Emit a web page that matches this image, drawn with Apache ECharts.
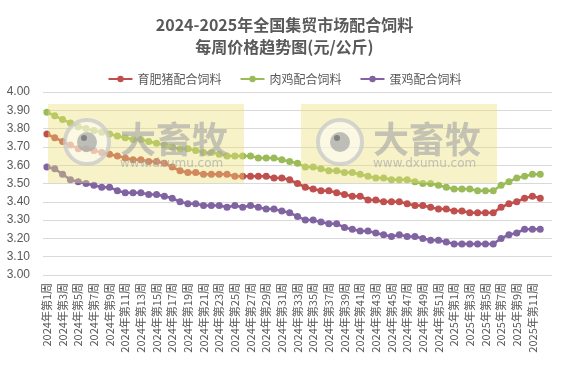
<!DOCTYPE html>
<html><head><meta charset="utf-8">
<script src="https://cdn.jsdelivr.net/npm/echarts@6/dist/echarts.min.js"></script>
<style>html,body{margin:0;padding:0;background:#fff}#c{width:569px;height:365px}</style>
</head><body><div id="c"></div>
<script>
const titleText = '2024-2025年全国集贸市场配合饲料\n每周价格趋势图(元/公斤)';
const categories = [
 '2024年第1周','2024年第2周','2024年第3周','2024年第4周','2024年第5周','2024年第6周','2024年第7周','2024年第8周','2024年第9周','2024年第10周',
 '2024年第11周','2024年第12周','2024年第13周','2024年第14周','2024年第15周','2024年第16周','2024年第17周','2024年第18周','2024年第19周','2024年第20周',
 '2024年第21周','2024年第22周','2024年第23周','2024年第24周','2024年第25周','2024年第26周','2024年第27周','2024年第28周','2024年第29周','2024年第30周',
 '2024年第31周','2024年第32周','2024年第33周','2024年第34周','2024年第35周','2024年第36周','2024年第37周','2024年第38周','2024年第39周','2024年第40周',
 '2024年第41周','2024年第42周','2024年第43周','2024年第44周','2024年第45周','2024年第46周','2024年第47周','2024年第48周','2024年第49周','2024年第50周',
 '2024年第51周','2024年第52周',
 '2025年第1周','2025年第2周','2025年第3周','2025年第4周','2025年第5周','2025年第6周','2025年第7周','2025年第8周','2025年第9周','2025年第10周',
 '2025年第11周','2025年第12周',''
];
const seriesNames = ['育肥猪配合饲料','肉鸡配合饲料','蛋鸡配合饲料'];
const hogFeed = [
 3.77,3.75,3.73,3.71,3.69,3.69,3.68,3.67,3.66,3.65,
 3.64,3.63,3.63,3.62,3.62,3.61,3.59,3.57,3.56,3.56,
 3.55,3.55,3.55,3.55,3.54,3.54,3.54,3.54,3.54,3.53,
 3.53,3.52,3.50,3.48,3.47,3.46,3.46,3.45,3.44,3.43,
 3.43,3.41,3.41,3.40,3.40,3.40,3.39,3.38,3.38,3.37,
 3.36,3.36,3.35,3.35,3.34,3.34,3.34,3.34,3.37,3.39,
 3.40,3.42,3.43,3.42
];
const broilerFeed = [
 3.89,3.87,3.85,3.83,3.81,3.80,3.79,3.78,3.77,3.76,
 3.75,3.74,3.74,3.73,3.72,3.71,3.70,3.69,3.69,3.68,
 3.67,3.67,3.66,3.65,3.65,3.65,3.65,3.64,3.64,3.64,
 3.63,3.62,3.61,3.59,3.59,3.58,3.57,3.57,3.56,3.56,
 3.55,3.54,3.53,3.53,3.52,3.52,3.52,3.51,3.50,3.50,
 3.49,3.48,3.47,3.47,3.47,3.46,3.46,3.46,3.49,3.51,
 3.53,3.54,3.55,3.55
];
const layerFeed = [
 3.59,3.58,3.55,3.52,3.51,3.50,3.49,3.48,3.48,3.46,
 3.45,3.45,3.45,3.44,3.44,3.43,3.42,3.40,3.39,3.39,
 3.38,3.38,3.38,3.37,3.38,3.37,3.38,3.37,3.36,3.36,
 3.35,3.34,3.32,3.30,3.30,3.29,3.28,3.28,3.26,3.25,
 3.24,3.24,3.23,3.22,3.21,3.22,3.21,3.21,3.20,3.19,
 3.19,3.18,3.17,3.17,3.17,3.17,3.17,3.17,3.20,3.22,
 3.23,3.25,3.25,3.25
];
const colors = ['#C0504D','#9BBB59','#8064A2'];
const yMin = 3.0, yMax = 4.0, yStep = 0.1;

const cjk = '"Noto Sans CJK SC","Liberation Sans",sans-serif';
const num = '"Liberation Sans","Noto Sans CJK SC",sans-serif';

function watermark(x, y) {
  const els = [];
  els.push({type:'rect', shape:{x:x, y:y, width:196, height:79},
    style:{fill:'rgba(236,222,118,0.40)'}, z:100, silent:true});
  els.push({type:'circle', shape:{cx:x+39, cy:y+38, r:22},
    style:{fill:'rgba(255,255,255,0.5)', stroke:'rgba(200,200,200,0.75)', lineWidth:4}, z:101, silent:true});
  els.push({type:'circle', shape:{cx:x+39, cy:y+38, r:10},
    style:{fill:'rgba(170,170,170,0.75)'}, z:102, silent:true});
  els.push({type:'circle', shape:{cx:x+36, cy:y+34, r:3},
    style:{fill:'rgba(110,110,110,0.75)'}, z:103, silent:true});
  els.push({type:'text', x:x+72, y:y+17, style:{text:'大畜牧', fill:'rgba(165,165,165,0.62)',
    font:'bold 36px "Noto Sans CJK SC", sans-serif'}, z:102, silent:true});
  els.push({type:'text', x:x+72, y:y+54, style:{text:'www.dxumu.com', fill:'rgba(170,170,170,0.7)',
    font:'12px "DejaVu Sans", sans-serif'}, z:102, silent:true});
  return els;
}

const chart = echarts.init(document.getElementById('c'), null, {renderer:'canvas'});
chart.setOption({
  backgroundColor:'#fff',
  animation:false,
  color: colors,
  title:{text:titleText, left:'center', top:9,
    textStyle:{fontFamily:cjk, fontSize:16, fontWeight:'bold', color:'#595959', lineHeight:22}},
  legend:{top:68, left:'center', itemWidth:24, itemHeight:8, itemGap:18,
    data:seriesNames,
    textStyle:{fontFamily:cjk, fontSize:12, color:'#595959'}},
  grid:{left:43, right:17, top:92, bottom:90, containLabel:false},
  xAxis:{type:'category', data:categories, boundaryGap:true,
    axisLine:{show:false}, axisTick:{show:false},
    axisLabel:{interval:1, rotate:90, fontFamily:cjk, fontSize:11, color:'#595959', margin:8}},
  yAxis:{type:'value', min:yMin, max:yMax, interval:yStep,
    axisLine:{show:false}, axisTick:{show:false},
    splitLine:{lineStyle:{color:'#D9D9D9', width:1}},
    axisLabel:{formatter:v=>v.toFixed(2), fontFamily:num, fontSize:12, color:'#595959', margin:13}},
  series:[hogFeed, broilerFeed, layerFeed].map((d,i)=>({
    name:seriesNames[i], type:'line', data:d, symbol:'circle', symbolSize:7,
    showSymbol:true, showAllSymbol:true,
    lineStyle:{width:2.5, color:colors[i]}, itemStyle:{color:colors[i]}
  })),
  graphic: watermark(48,104).concat(watermark(301,104))
});
</script>
</body></html>
